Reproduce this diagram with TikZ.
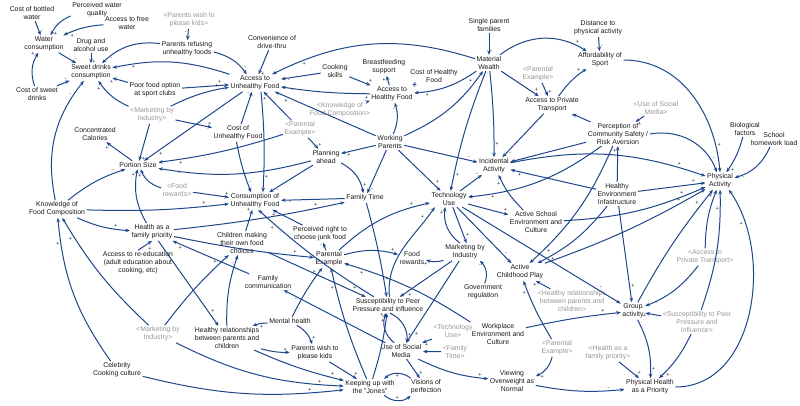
\documentclass[tikz,border=0pt]{standalone}
\usepackage{fontspec}
\setmainfont{Liberation Sans}
\usetikzlibrary{arrows.meta}
\definecolor{lk}{RGB}{30,70,140}
\definecolor{gt}{RGB}{150,150,150}
\definecolor{tx}{RGB}{25,25,25}
\begin{document}
\begin{tikzpicture}[x=1pt,y=-1pt,
  vn/.style={align=center,inner sep=1.5pt,text=tx,font=\fontsize{6.9}{7.8}\selectfont},
  gn/.style={vn,text=gt},
  ar/.style={draw=lk,line width=1pt,-{Stealth[length=4.5pt,width=3.6pt]}},
  sg/.style={pos=0.86,auto,inner sep=0.8pt,text=tx,font=\fontsize{5.5}{5.5}\selectfont}]
\useasboundingbox (0,0) rectangle (800,405);
% nodes
\node[vn] (cbw) at (32,13) {Cost of bottled\\water};
\node[vn] (pwq) at (97,10) {Perceived water\\quality};
\node[vn] (afw) at (127,23) {Access to free\\water};
\node[vn] (wc) at (44,44) {Water\\consumption};
\node[vn] (dau) at (91,45) {Drug and\\alcohol use};
\node[gn] (pwpk1) at (189,20) {<Parents wish to\\please kids>};
\node[vn] (pruf) at (187,49) {Parents refusing\\unhealthy foods};
\node[vn] (sdc) at (91,72) {Sweet drinks\\consumption};
\node[vn] (csd) at (37,94) {Cost of sweet\\drinks};
\node[vn] (pfo) at (155,90) {Poor food option\\at sport clubs};
\node[vn] (cdt) at (272,42) {Convenience of\\drive-thru};
\node[vn] (auf) at (255,83) {Access to\\Unhealthy Food};
\node[vn] (cks) at (335,71) {Cooking\\skills};
\node[vn] (bfs) at (384,67) {Breastfeeding\\support};
\node[vn] (chf) at (434,76) {Cost of Healthy\\Food};
\node[vn] (ahf) at (392,94) {Access to\\Healthy Food};
\node[gn] (kfc1) at (340,110) {<Knowledge of\\Food Composition>};
\node[vn] (spf) at (489,25) {Single parent\\families};
\node[vn] (mw) at (489,63) {Material\\Wealth};
\node[vn] (dpa) at (598,28) {Distance to\\physical activity};
\node[vn] (aos) at (600,60) {Affordability of\\Sport};
\node[gn] (pe1) at (538,74) {<Parental\\Example>};
\node[vn] (apt) at (552,105) {Access to Private\\Transport};
\node[gn] (usm1) at (656,108) {<Use of Social\\Media>};
\node[vn] (pcs) at (618,134) {Perception of\\Community Safety /\\Risk Aversion};
\node[vn] (bio) at (745,129) {Biological\\factors};
\node[vn] (shl) at (774,139) {School\\homework load};
\node[vn] (pa) at (720,181) {Physical\\Activity};
\node[gn] (mkt1) at (152,115) {<Marketing by\\Industry>};
\node[vn] (cuf) at (238,133) {Cost of\\Unhealthy Food};
\node[gn] (pe2) at (300,129) {<Parental\\Example>};
\node[vn] (wp) at (390,142) {Working\\Parents};
\node[vn] (pah) at (326,157) {Planning\\ahead};
\node[vn] (cc) at (95,134) {Concentrated\\Calories};
\node[vn] (ps) at (138,165) {Portion Size};
\node[gn] (fr1) at (177,190) {<Food\\rewards>};
\node[vn] (cuhf) at (255,201) {Consumption of\\Unhealthy Food};
\node[vn] (ft) at (365,198) {Family Time};
\node[vn] (ia) at (494,166) {Incidental\\Activity};
\node[vn] (tu) at (449,199) {Technology\\Use};
\node[vn] (hei) at (617,194) {Healthy\\Environment\\Infastructure};
\node[vn] (ase) at (536,222) {Active School\\Environment and\\Culture};
\node[vn] (kfc) at (57,209) {Knowledge of\\Food Composition};
\node[vn] (hfp) at (152,232) {Health as a\\family priority};
\node[vn] (cmc) at (242,243) {Children making\\their own food\\choices};
\node[vn] (prj) at (320,234) {Perceived right to\\choose junk food};
\node[vn] (are) at (138,263) {Access to re-education\\(adult education about\\cooking, etc)};
\node[vn] (fc) at (268,282) {Family\\communication};
\node[vn] (pe) at (329,259) {Parental\\Example};
\node[vn] (fr) at (412,258) {Food\\rewards};
\node[vn] (mbi) at (465,252) {Marketing by\\Industry};
\node[vn] (gr) at (483,292) {Government\\regulation};
\node[vn] (acp) at (520,272) {Active\\Childhood Play};
\node[gn] (hrg) at (572,301) {<Healthy relationships\\between parents and\\children>};
\node[vn] (ga) at (633,311) {Group\\activity};
\node[gn] (aptg) at (705,257) {<Access to\\Private Transport>};
\node[gn] (spg) at (697,322) {<Susceptibility to Peer\\Pressure and\\influence>};
\node[gn] (mkt2) at (158,334) {<Marketing by\\Industry>};
\node[vn] (hrpc) at (227,338) {Healthy relationships\\between parents and\\children};
\node[vn] (mh) at (290,321) {Mental health};
\node[vn] (spp) at (388,305) {Susceptibility to Peer\\Pressure and influence};
\node[vn] (wec) at (498,334) {Workplace\\Environment and\\Culture};
\node[gn] (tug) at (453,331) {<Technology\\Use>};
\node[gn] (ftg) at (455,352) {<Family\\Time>};
\node[vn] (usm) at (401,351) {Use of Social\\Media};
\node[vn] (pwpk) at (315,353) {Parents wish to\\please kids};
\node[gn] (pe3) at (557,348) {<Parental\\Example>};
\node[gn] (hfpg) at (608,353) {<Health as a\\family priority>};
\node[vn] (von) at (512,381) {Viewing\\Overweight as\\Normal};
\node[vn] (ccc) at (117,370) {Celebrity\\Cooking culture};
\node[vn] (kuj) at (370,387) {Keeping up with\\the "Jones"};
\node[vn] (viz) at (426,387) {Visions of\\perfection};
\node[vn] (php) at (650,387) {Physical Health\\as a Priority};
% top-left
\draw[ar] (cbw) -- node[sg]{-} (wc);
\draw[ar] (pwq) to[bend right=20] node[sg]{+} (wc);
\draw[ar] (afw) to[bend right=10] node[sg]{+} (wc);
\draw[ar] (wc) -- node[sg]{-} (sdc);
\draw[ar] (csd) to[bend left=25] node[sg]{+} (wc);
\draw[ar] (csd) -- node[sg]{-} (sdc);
\draw[ar] (dau) -- node[sg]{+} (sdc);
\draw[ar] (pruf) to[bend right=25] node[sg]{-} (sdc);
\draw[ar] (pruf) to[bend left=20] node[sg]{-} (auf);
\draw[ar] (pwpk1) -- node[sg,pos=0.5,swap]{-} (pruf);
\draw[ar] (auf) to[bend right=15] node[sg]{+} (sdc);
\draw[ar] (pfo) -- node[sg]{+} (sdc);
\draw[ar] (pfo) -- node[sg]{+} (auf);
\draw[ar] (mkt1) to[bend left=15] node[sg]{+} (sdc);
\draw[ar] (mkt1) to[bend left=8] node[sg]{+} (auf);
\draw[ar] (mkt1) -- node[sg]{+} (cuf);
\draw[ar] (mkt1) -- node[sg]{+} (ps);
\draw[ar] (kfc) to[bend left=25] node[sg]{-} (sdc);
\draw[ar] (ccc) to[bend left=15] node[sg]{+} (kfc);
\draw[ar] (mkt2) to[bend left=8] node[sg]{+} (kfc);
\draw[ar] (kfc) to[bend left=10] node[sg]{-} (ps);
\draw[ar] (kfc) to[bend right=4] node[sg]{+} (cuhf);
\draw[ar] (kfc) to[bend right=10] node[sg,pos=0.7]{+} (hfp);
% portion size / consumption
\draw[ar] (ps) -- node[sg]{+} (cc);
\draw[ar] (auf) -- node[sg]{+} (ps);
\draw[ar] (pe2) to[bend left=5] node[sg]{+} (ps);
\draw[ar] (hfp) to[bend left=20] node[sg]{+} (ps);
\draw[ar] (pah) to[bend left=12] node[sg]{-} (ps);
\draw[ar] (fr1) to[bend left=25] node[sg]{+} (ps);
\draw[ar] (fr1) -- node[sg]{+} (cuhf);
\draw[ar] (cuf) -- node[sg]{-} (auf);
\draw[ar] (cuf.-100) to[bend right=5] node[sg]{-} ([xshift=-4pt]cuhf.north);
\draw[ar] ([xshift=6pt]auf.south) to[bend left=4] node[sg]{+} ([xshift=8pt]cuhf.north);
\draw[ar] (pe2) -- node[sg]{+} (pah);
\draw[ar] (pe2) -- node[sg]{+} (auf);
\draw[ar] (wp) -- node[sg]{+} (pah);
\draw[ar] (pah) -- node[sg]{-} (cuhf);
\draw[ar] (pah) to[bend left=25] node[sg]{+} (ft);
\draw[ar] (ft) to[bend left=3] node[sg]{+} (spp);
\draw[ar] (wp) -- node[sg]{-} (ft);
\draw[ar] (ft) -- node[sg]{-} (cuhf);
\draw[ar] (hfp) to[bend right=3] node[sg]{+} (ft);
\draw[ar] (wp) -- node[sg]{+} (tu);
\draw[ar] (wp) -- node[sg]{-} (ia);
\draw[ar] (wp) to[bend right=15] node[sg]{+} (mw);
\draw[ar] (wp) -- node[sg]{+} (auf);
\draw[ar] (wp) to[bend right=20] node[sg]{-} (ahf);
% top middle
\draw[ar] (cdt) -- node[sg]{+} (auf);
\draw[ar] (cks) -- node[sg]{-} (auf);
\draw[ar] (cks) -- node[sg]{+} (ahf);
\draw[ar] (ahf) -- node[sg]{+} (bfs);
\draw[ar] (chf) -- node[sg]{-} (ahf);
\draw[ar] (mw) to[bend left=15] node[sg]{+} (ahf);
\draw[ar] (ahf) to[bend left=4] node[sg]{-} (auf);
\draw[ar] (kfc1) -- node[sg]{+} (ahf);
\draw[ar] (mw) to[bend right=22] node[sg]{+} (auf);
% top right
\draw[ar] (spf) -- node[sg]{-} (mw);
\draw[ar] (mw) to[bend left=35] node[sg]{+} (aos);
\draw[ar] (mw) -- node[sg]{+} (apt);
\draw[ar] (pe1) -- node[sg]{+} (apt);
\draw[ar] (apt) to[bend left=10] node[sg]{+} (aos);
\draw[ar] (dpa) -- node[sg]{-} (aos);
\draw[ar] (aos.east) to[out=0,in=95] node[sg]{+} (pa.north);
\draw[ar] (pcs) -- node[sg]{-} (apt);
\draw[ar] (usm1) -- node[sg]{+} (pcs);
\draw[ar] (apt) -- node[sg]{-} (ia);
\draw[ar] (mw) to[bend left=3] node[sg]{+} (ia);
\draw[ar] (mw) to[bend right=5] node[sg]{+} (tu);
\draw[ar] (pcs) -- node[sg]{-} (ia);
\draw[ar] (pcs.east) to[out=10,in=110] node[sg]{-} (pa);
\draw[ar] (ia) to[bend left=15] node[sg]{+} (pa);
\draw[ar] (hei) -- node[sg]{+} (ia);
\draw[ar] (hei) -- node[sg]{+} (pcs);
\draw[ar] (hei) -- node[sg]{+} (pa);
\draw[ar] (ase) to[bend left=10] node[sg]{+} (ia);
\draw[ar] (ase) to[bend right=10] node[sg]{+} (pa);
\draw[ar] (tu) -- node[sg]{+} (ase);
\draw[ar] (tu) -- node[sg]{-} (ia);
\draw[ar] (pcs) to[bend left=15] node[sg]{+} (tu);
\draw[ar] (pcs) to[bend left=12] node[sg]{+} (acp);
\draw[ar] (hei) to[bend left=12] node[sg]{+} (acp);
\draw[ar] (acp) to[bend right=5] node[sg]{+} (pa);
\draw[ar] (tu) -- node[sg]{-} (acp);
\draw[ar] (tu) -- node[sg]{-} (ga);
\draw[ar] (hei) -- node[sg]{+} (ga);
\draw[ar] (ga) to[bend left=5] node[sg]{+} (pa);
\draw[ar] (aptg) to[bend left=10] node[sg]{+} (pa);
\draw[ar] (aptg) to[bend left=15] node[sg]{-} (ga);
\draw[ar] (spg) -- node[sg]{+} (ga);
\draw[ar] (spg) to[bend left=10] node[sg]{+} (php);
\draw[ar] (spg) to[bend right=10] node[sg]{+} (pa);
\draw[ar] (php.east) to[out=0,in=-55] node[sg]{+} (pa.-45);
\draw[ar] (bio) to[bend left=10] node[sg]{+} (pa);
\draw[ar] (shl) to[bend left=25] node[sg]{-} (pa);
% bottom right
\draw[ar] (ga) to[bend left=15] node[sg]{+} (php);
\draw[ar] (hfpg) -- node[sg]{+} (php);
\draw[ar] (von) to[bend right=8] node[sg]{-} (php);
\draw[ar] (pe3) to[bend left=25] node[sg]{+} (von);
\draw[ar] (pe3) to[bend left=5] node[sg]{+} (acp);
\draw[ar] (hrg) -- node[sg]{+} (acp);
\draw[ar] (wec) to[bend left=3] node[sg]{+} (ga);
\draw[ar] (usm) to[bend right=10] node[sg]{+} (von);
\draw[ar] (wec.north west) to[bend right=8] node[sg]{+} (pe);
% middle
\draw[ar] (gr) to[bend right=35] node[sg]{-} (mbi);
\draw[ar] (mbi) to[bend left=15] node[sg]{+} (fr);
\draw[ar] (tu.-65) -- node[sg]{+} (mbi.80);
\draw[ar] (mbi.120) to[bend left=30] node[sg]{+} (tu.-115);
\draw[ar] (pe) to[bend left=15] node[sg]{+} (tu);
\draw[ar] (spp.80) to[out=95,in=-125] node[sg]{+} (tu.-150);
\draw[ar] (pe) to[bend left=15] node[sg]{+} (fr);
\draw[ar] (pe) -- node[sg]{-} (prj);
\draw[ar] (prj) -- node[sg]{+} (cuhf);
\draw[ar] (cmc) -- node[sg]{+} (cuhf);
\draw[ar] (spp.150) to[bend left=5] node[sg]{+} (cuhf.-70);
\draw[ar] (cmc.-20) -- node[sg]{+} (spp.160);
\draw[ar] (hfp) to[bend right=3] node[sg]{+} (pe);
\draw[ar] (fc) -- node[sg]{+} (hfp);
\draw[ar] (hfp) -- node[sg]{+} (hrpc);
\draw[ar] (are.north) -- node[sg,pos=0.5,swap,xshift=2pt]{+} (hfp.south);
\draw[ar] (mkt2) to[bend left=5] node[sg]{+} (cmc);
\draw[ar] (hrpc) to[bend left=10] node[sg]{-} (cmc);
% bottom
\draw[ar] (mkt2) to[bend right=12] node[sg]{+} (kuj);
\draw[ar] (ccc) to[bend right=10] node[sg]{+} (kuj);
\draw[ar] (hrpc) to[bend right=5] node[sg]{+} (kuj);
\draw[ar] (mh) to[bend right=10] node[sg,pos=0.6]{+} (hrpc);
\draw[ar] (mh) to[bend left=20] node[sg]{+} (pwpk);
\draw[ar] (hrpc) to[bend right=8] node[sg]{+} (pwpk);
\draw[ar] (pwpk) -- node[sg]{+} (kuj);
\draw[ar] (mh) to[bend left=5] node[sg]{+} (pe);
\draw[ar] (kuj) to[bend left=5] node[sg]{+} (pe);
\draw[ar] (kuj) to[bend right=5] node[sg]{+} (spp);
\draw[ar] (usm.130) to[bend left=35] node[sg]{+} (spp.-105);
\draw[ar] (spp.-75) to[bend left=35] node[sg]{+} (usm.55);
\draw[ar] (mbi) -- node[sg]{+} (usm);
\draw[ar] (mbi) -- node[sg]{+} (spp);
\draw[ar] (tug) -- node[sg]{+} (usm);
\draw[ar] (ftg) -- node[sg]{-} (usm);
\draw[ar] (usm) -- node[sg]{-} (fc);
\draw[ar] (usm) -- node[sg]{+} (viz);
\draw[ar] (viz.150) to[bend right=40] node[sg,pos=0.5]{+} (kuj.30);
\draw[ar] (kuj.-30) to[bend right=40] node[sg,pos=0.5]{+} (viz.-150);
\end{tikzpicture}
\end{document}
